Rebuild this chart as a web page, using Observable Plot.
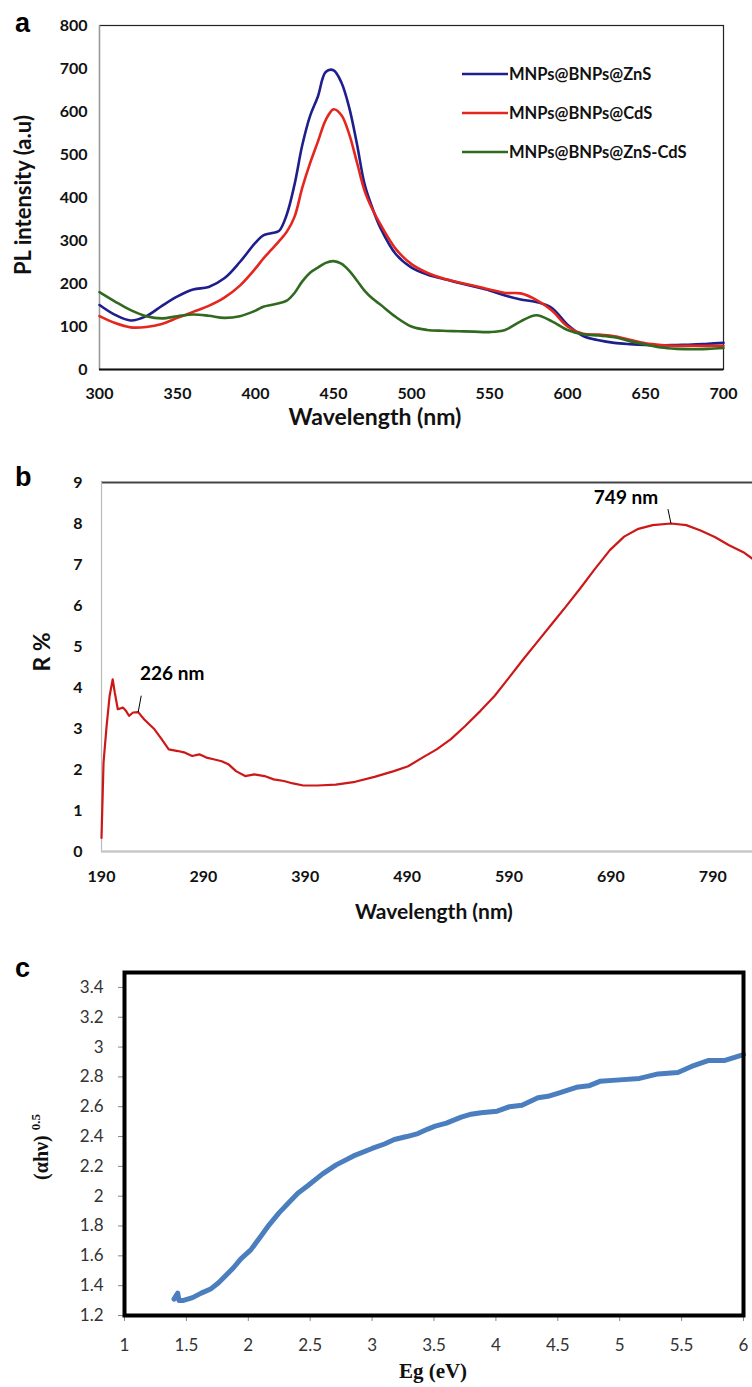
<!DOCTYPE html>
<html><head><meta charset="utf-8">
<script src="https://cdn.jsdelivr.net/npm/d3@7"></script>
<script src="https://cdn.jsdelivr.net/npm/@observablehq/plot@0.6"></script>
<style>
body{margin:0;background:#fff;}
#root{position:relative;width:752px;height:1387px;overflow:hidden;background:#fff;}
.panel{position:absolute;left:0;}
</style></head><body><div id="root"></div>
<script>
// ---------- Panel a: PL spectra ----------
const wavelengthA = [300,310,320,330,340,350,360,370,380,390,400,405,410,415,420,425,430,435,440,445,450,455,460,465,470,475,480,490,500,510,520,530,540,550,560,570,580,590,600,610,620,630,640,650,660,670,680,690,700];
const plZnS = [150,127,114,124,148,170,186,192,212,250,295,312,317,322,360,430,522,590,635,692,696,668,610,525,430,375,330,268,237,221,211,202,193,184,172,163,157,143,104,78,68,62,59,57,56,57,58,60,62];
const plCdS = [124,108,98,99,106,120,134,148,167,195,235,258,278,298,320,355,423,480,530,580,605,592,548,482,415,372,338,280,245,225,212,203,195,186,178,177,162,137,100,83,81,77,69,61,57,55,55,55,55];
const plZnSCdS = [180,158,138,124,119,124,128,125,120,124,137,146,150,154,160,178,205,225,237,248,252,246,230,207,183,165,151,122,100,92,90,89,88,87,92,112,126,112,92,82,79,75,66,58,51,48,47,48,50];
const seriesNames = ["MNPs@BNPs@ZnS","MNPs@BNPs@CdS","MNPs@BNPs@ZnS-CdS"];
const seriesColors = ["#1e1e8c","#e5261e","#2f6a1f"];
const xTicksA = [300,350,400,450,500,550,600,650,700];
const yTicksA = [0,100,200,300,400,500,600,700,800];

// ---------- Panel b: reflectance ----------
const wavelengthB = [190,192,195,198,201,203,206,211,214,217,221,226,232,242,249,256,265,272,279,286,293,300,308,315,322,331,340,350,359,369,378,388,402,420,439,458,477,491,505,519,533,547,562,576,590,604,618,632,646,660,674,689,703,717,731,749,764,778,792,806,820,829];
const reflectance = [0.33,2.17,3.06,3.8,4.2,3.88,3.47,3.51,3.43,3.31,3.39,3.4,3.22,2.98,2.74,2.49,2.45,2.41,2.33,2.37,2.29,2.25,2.2,2.12,1.96,1.84,1.88,1.84,1.76,1.72,1.66,1.61,1.61,1.63,1.70,1.82,1.96,2.08,2.29,2.49,2.74,3.06,3.43,3.8,4.24,4.69,5.12,5.55,5.98,6.42,6.88,7.35,7.68,7.87,7.96,8.0,7.96,7.83,7.67,7.47,7.3,7.14];
const xTicksB = [190,290,390,490,590,690,790];
const yTicksB = [0,1,2,3,4,5,6,7,8,9];
const peakWavelengths = [226, 749];
const peakValues = [3.4, 8.0];
const peakTexts = ["226 nm", "749 nm"];

// ---------- Panel c: Tauc plot ----------
const energyC = [1.40,1.43,1.44,1.47,1.55,1.62,1.70,1.76,1.82,1.88,1.94,2.02,2.10,2.17,2.25,2.33,2.40,2.48,2.60,2.71,2.85,3.00,3.10,3.18,3.28,3.37,3.45,3.51,3.60,3.72,3.80,3.88,4.01,4.11,4.21,4.34,4.42,4.50,4.65,4.75,4.84,5.00,5.16,5.31,5.47,5.58,5.72,5.85,6.00];
const alphaHv = [1.31,1.35,1.30,1.30,1.32,1.35,1.38,1.42,1.47,1.52,1.58,1.64,1.73,1.81,1.89,1.96,2.02,2.07,2.15,2.21,2.27,2.32,2.35,2.38,2.40,2.42,2.45,2.47,2.49,2.53,2.55,2.56,2.57,2.60,2.61,2.66,2.67,2.69,2.73,2.74,2.77,2.78,2.79,2.82,2.83,2.87,2.91,2.91,2.95];
const xTicksC = [1,1.5,2,2.5,3,3.5,4,4.5,5,5.5,6];
const yTicksC = [1.2,1.4,1.6,1.8,2,2.2,2.4,2.6,2.8,3,3.2,3.4];

const root = document.getElementById("root");
function place(svg, top){ const d=document.createElement("div"); d.className="panel"; d.style.top=top+"px"; d.appendChild(svg); root.appendChild(d); return d3.select(svg); }
const sans = "Lato, 'Open Sans', sans-serif";
const arial = "'Liberation Sans', Arial, sans-serif";
const serif = "'Liberation Serif', 'DejaVu Serif', serif";
function label(sel, x, y, txt, o={}){
  return sel.append("text").attr("x",x).attr("y",y).attr("text-anchor",o.anchor||"start")
    .attr("font-family",o.family||sans).attr("font-weight",o.weight||700).attr("font-size",o.size||16)
    .attr("fill",o.fill||"#111").attr("transform",o.transform||null).text(txt);
}

// ===== Panel a =====
const seriesVals = [plZnS, plCdS, plZnSCdS];
const rowsA = seriesNames.flatMap((name,i)=>wavelengthA.map((w,j)=>({series:name, x:w, y:seriesVals[i][j]})));
const plotA = Plot.plot({
  width:752, height:440, marginTop:25, marginBottom:71, marginLeft:99, marginRight:29,
  style:{fontFamily:sans, fontWeight:700, fontSize:"16px", color:"#111", background:"transparent", overflow:"visible"},
  x:{domain:[300,700], ticks:xTicksA, tickSize:0, tickPadding:18, label:null},
  y:{domain:[0,800], ticks:yTicksA, tickSize:0, tickPadding:12, label:null},
  color:{domain:seriesNames, range:seriesColors},
  marks:[
    Plot.frame({stroke:"#222", strokeWidth:1.2}),
    Plot.ruleX([300],{stroke:"#999", strokeWidth:1.2}),
    Plot.ruleY([0],{stroke:"#111", strokeWidth:2}),
    Plot.line(rowsA,{x:"x", y:"y", z:"series", stroke:"series", strokeWidth:2.6, curve:"catmull-rom"})
  ]
});
const sa = place(plotA, 0);
label(sa, 15, 32, "a", {family:arial, size:27, fill:"#000"});
label(sa, 375, 425, "Wavelength (nm)", {anchor:"middle", size:23});
label(sa, 0, 0, "PL intensity (a.u)", {anchor:"middle", size:22, transform:"translate(31,195) rotate(-90)"});
seriesNames.forEach((name,i)=>{
  const y = 74 + i*39;
  sa.append("line").attr("x1",462).attr("x2",508).attr("y1",y).attr("y2",y).attr("stroke",seriesColors[i]).attr("stroke-width",2.6);
  label(sa, 509, y+6, name, {size:16.5});
});

// ===== Panel b =====
const rowsB = wavelengthB.map((w,i)=>({x:w, y:reflectance[i]}));
const peaks = peakWavelengths.map((w,i)=>({x:w, y:peakValues[i], text:peakTexts[i]}));
const plotB = Plot.plot({
  width:752, height:470, marginTop:22, marginBottom:79, marginLeft:101, marginRight:0,
  style:{fontFamily:sans, fontWeight:700, fontSize:"16px", color:"#111", background:"transparent", overflow:"visible"},
  x:{domain:[190,829], ticks:xTicksB, tickSize:0, tickPadding:19, label:null},
  y:{domain:[0,9], ticks:yTicksB, tickSize:0, tickPadding:19, label:null},
  marks:[
    Plot.ruleY([9],{stroke:"#444", strokeWidth:2}),
    Plot.ruleX([190],{stroke:"#bbb", strokeWidth:1.2}),
    Plot.ruleY([0],{stroke:"#c8c8c8", strokeWidth:2.5}),
    Plot.line(rowsB,{x:"x", y:"y", stroke:"#cc1818", strokeWidth:2.2}),
    Plot.link([peaks[0]],{x1:"x", y1:"y", x2:d=>d.x+3, y2:d=>d.y+0.4, stroke:"#000", strokeWidth:1}),
    Plot.link([peaks[1]],{x1:"x", y1:"y", x2:d=>d.x-3, y2:d=>d.y+0.35, stroke:"#000", strokeWidth:1}),
    Plot.text([peaks[0]],{x:"x", y:"y", text:"text", dx:34, dy:-38, fontSize:19, fontWeight:700, fill:"#000"}),
    Plot.text([peaks[1]],{x:"x", y:"y", text:"text", dx:-45, dy:-26, fontSize:19, fontWeight:700, fill:"#000"})
  ]
});
const sb = place(plotB, 460);
label(sb, 15, 26, "b", {family:arial, size:27, fill:"#000"});
label(sb, 434, 459, "Wavelength (nm)", {anchor:"middle", size:21});
label(sb, 0, 0, "R %", {anchor:"middle", size:23, transform:"translate(50,192) rotate(-90)"});

// ===== Panel c =====
const rowsC = energyC.map((e,i)=>({x:e, y:alphaHv[i]}));
const plotC = Plot.plot({
  width:752, height:457, marginTop:42, marginBottom:72, marginLeft:124, marginRight:9,
  style:{fontFamily:sans, fontWeight:400, fontSize:"17px", color:"#333", background:"transparent", overflow:"visible"},
  x:{domain:[1,6]},
  y:{domain:[1.2,3.5]},
  marks:[
    Plot.axisX({ticks:xTicksC, tickSize:6, tickPadding:17, tickFormat:d=>`${d}`, stroke:"#888", fill:"#333", label:null}),
    Plot.axisY({ticks:yTicksC, tickSize:6, tickPadding:15, tickFormat:d=>`${d}`, stroke:"#888", fill:"#333", label:null}),
    Plot.line(rowsC,{x:"x", y:"y", stroke:"#4a7ebf", strokeWidth:5, strokeLinecap:"round", strokeLinejoin:"round"}),
    Plot.frame({stroke:"#000", strokeWidth:4})
  ]
});
const sc = place(plotC, 930);
label(sc, 15, 47, "c", {family:arial, size:27, fill:"#000"});
label(sc, 433, 448, "Eg (eV)", {anchor:"middle", family:serif, size:21});
const yt = label(sc, 0, 0, "", {anchor:"middle", family:serif, size:20, transform:"translate(48,217) rotate(-90)"});
yt.append("tspan").text("(αhν) ");
yt.append("tspan").attr("font-size",13).attr("dy",-8).text("0.5");
</script></body></html>
